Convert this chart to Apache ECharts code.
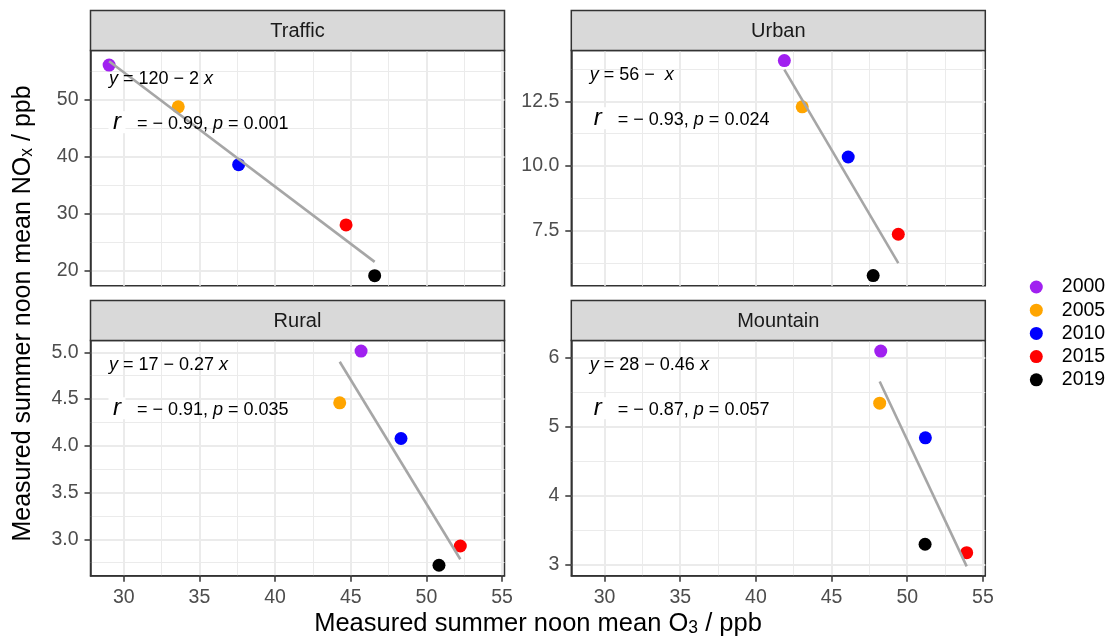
<!DOCTYPE html>
<html><head><meta charset="utf-8">
<script src="https://cdn.jsdelivr.net/npm/echarts@6/dist/echarts.min.js"></script>
<style>html,body{margin:0;padding:0;background:#fff}#chart{width:1110px;height:641px}</style>
</head><body><div id="chart"></div>
<script>
// ---------------- data ----------------
const years = ['2000', '2005', '2010', '2015', '2019'];
const panels = ['Traffic', 'Urban', 'Rural', 'Mountain'];

// measured summer noon mean O3 (x) and NOx (y), in year order
const trafficO3   = [29.03, 33.60, 37.59, 44.69, 46.58];
const trafficNOx  = [56.13, 48.80, 38.63, 28.05, 19.12];
const urbanO3     = [41.88, 43.06, 46.10, 49.41, 47.75];
const urbanNOx    = [14.08, 12.29, 10.35, 7.36, 5.76];
const ruralO3     = [45.68, 44.27, 48.32, 52.24, 50.83];
const ruralNOx    = [5.014, 4.46, 4.078, 2.928, 2.722];
const mountainO3  = [48.25, 48.18, 51.20, 53.93, 51.18];
const mountainNOx = [6.09, 5.338, 4.837, 3.178, 3.299];

// fitted regression line end points
const trafficFit  = [[29.03, 56.80], [46.58, 21.55]];
const urbanFit    = [[41.88, 13.73], [49.41, 6.24]];
const ruralFit    = [[44.27, 4.90], [52.24, 2.786]];
const mountainFit = [[48.18, 5.65], [53.93, 2.98]];

// annotation texts
const eqLabels  = ['{i|y} = 120 − 2 {i|x}', '{i|y} = 56 −  {i|x}', '{i|y} = 17 − 0.27 {i|x}', '{i|y} = 28 − 0.46 {i|x}'];
const corLabels = ['= − 0.99, {i|p} = 0.001', '= − 0.93, {i|p} = 0.024', '= − 0.91, {i|p} = 0.035', '= − 0.87, {i|p} = 0.057'];

// axis ranges and ticks
const xRange = [27.8, 55.16];
const xTicks = [30, 35, 40, 45, 50, 55];
const xMinorTicks = [32.5, 37.5, 42.5, 47.5, 52.5];
const trafficYRange  = [17.36, 58.70];
const urbanYRange    = [5.37, 14.47];
const ruralYRange    = [2.61, 5.127];
const mountainYRange = [2.845, 6.243];
const trafficYTicks  = [20, 30, 40, 50];
const urbanYTicks    = [7.5, 10, 12.5];
const ruralYTicks    = [3, 3.5, 4, 4.5, 5];
const mountainYTicks = [3, 4, 5, 6];
const trafficYMinor  = [25, 35, 45, 55];
const urbanYMinor    = [6.25, 8.75, 11.25, 13.75];
const ruralYMinor    = [2.75, 3.25, 3.75, 4.25, 4.75];
const mountainYMinor = [3.5, 4.5, 5.5];
const yDecimals = [0, 1, 1, 0];

// ---------------- build ----------------
const yearColors = ['#A020F0', '#FFA500', '#0000FF', '#FF0000', '#000000'];
const FONT = '"Liberation Sans", Arial, Helvetica, sans-serif';
const xs = [trafficO3, urbanO3, ruralO3, mountainO3];
const ys = [trafficNOx, urbanNOx, ruralNOx, mountainNOx];
const fits = [trafficFit, urbanFit, ruralFit, mountainFit];
const yRanges = [trafficYRange, urbanYRange, ruralYRange, mountainYRange];
const yTicks = [trafficYTicks, urbanYTicks, ruralYTicks, mountainYTicks];
const yMinor = [trafficYMinor, urbanYMinor, ruralYMinor, mountainYMinor];

const COLS = [90.5, 571.3], ROWS = [50.5, 340.5], PW = 414, PH = 235.2, SH = 40;
const eqDy = [28.3, 24.8, 24.8, 24.8];
const corDy = [73.2, 69.2, 69.2, 69.2];

const grids = [], xAxes = [], yAxes = [], series = [], graphics = [];
const minorX = [], minorY = [];

panels.forEach((name, p) => {
  const left = COLS[p % 2], top = ROWS[p >> 1];
  const bottomRow = p >= 2;
  grids.push({left: left, top: top, width: PW, height: PH, show: true,
    borderColor: '#333333', borderWidth: 1.5, backgroundColor: 'transparent'});
  xAxes.push({type: 'value', gridIndex: p, min: xRange[0], max: xRange[1],
    axisLine: {show: bottomRow, onZero: false, lineStyle: {color: '#333333', width: 1.5}},
    axisTick: {show: bottomRow, length: 6, customValues: xTicks, lineStyle: {color: '#333333', width: 1.5}},
    axisLabel: {show: bottomRow, customValues: xTicks, color: '#4D4D4D', fontSize: 19.5, fontFamily: FONT, margin: 12},
    splitLine: {show: true, lineStyle: {color: '#EBEBEB', width: 2}}
  });
  const dec = yDecimals[p];
  yAxes.push({type: 'value', gridIndex: p, min: yRanges[p][0], max: yRanges[p][1],
    axisLine: {show: true, onZero: false, lineStyle: {color: '#333333', width: 1.5}},
    axisTick: {show: true, length: 6, customValues: yTicks[p], lineStyle: {color: '#333333', width: 1.5}},
    axisLabel: {show: true, customValues: yTicks[p], color: '#4D4D4D', fontSize: 19.5, fontFamily: FONT, margin: 12,
      formatter: v => Number(v).toFixed(dec)},
    splitLine: {show: true, lineStyle: {color: '#EBEBEB', width: 2}}
  });
  minorX.push({type: 'value', gridIndex: p, min: xRange[0], max: xRange[1], position: 'top',
    axisLine: {show: false}, axisTick: {show: false, customValues: xMinorTicks},
    axisLabel: {show: false}, splitLine: {show: true, lineStyle: {color: '#EBEBEB', width: 1}}});
  minorY.push({type: 'value', gridIndex: p, min: yRanges[p][0], max: yRanges[p][1], position: 'right',
    axisLine: {show: false}, axisTick: {show: false, customValues: yMinor[p]},
    axisLabel: {show: false}, splitLine: {show: true, lineStyle: {color: '#EBEBEB', width: 1}}});

  years.forEach((yr, k) => {
    series.push({name: yr, type: 'scatter', xAxisIndex: p, yAxisIndex: p,
      data: [[xs[p][k], ys[p][k]]], symbol: 'circle', symbolSize: 13,
      itemStyle: {color: yearColors[k], opacity: 1}, z: 3, silent: true});
  });
  series.push({name: 'fit' + p, type: 'line', xAxisIndex: p, yAxisIndex: p, data: fits[p],
    showSymbol: false, symbol: 'none', lineStyle: {color: '#A6A6A6', width: 2.6}, z: 4, silent: true});

  // strip
  graphics.push({type: 'rect', shape: {x: left, y: top - SH, width: PW, height: SH},
    style: {fill: '#D9D9D9', stroke: '#333333', lineWidth: 1.5}, z: 10});
  graphics.push({type: 'text', x: left + PW / 2, y: top - SH / 2 + 0.5, z: 11,
    style: {text: name, fill: '#1A1A1A', fontSize: 20, fontFamily: FONT,
      align: 'center', verticalAlign: 'middle', textAlign: 'center', textVerticalAlign: 'middle'}});
  // equation
  graphics.push({type: 'text', x: left + 18.5, y: top + eqDy[p], z: 12,
    style: {text: eqLabels[p], fill: '#000', fontSize: 18, fontFamily: FONT,
      rich: {i: {fontStyle: 'italic', fontSize: 18, fontFamily: FONT, fill: '#000'}},
      align: 'left', verticalAlign: 'middle', textAlign: 'left', textVerticalAlign: 'middle'}});
  // r with white box
  graphics.push({type: 'text', x: left + 18, y: top + corDy[p] - 1.5, z: 12,
    style: {text: 'r', fill: '#000', fontSize: 24, fontStyle: 'italic', fontFamily: FONT,
      backgroundColor: '#FFFFFF', padding: [0, 4.5], lineHeight: 22,
      align: 'left', verticalAlign: 'middle', textAlign: 'left', textVerticalAlign: 'middle'}});
  graphics.push({type: 'text', x: left + 46.5, y: top + corDy[p], z: 12,
    style: {text: corLabels[p], fill: '#000', fontSize: 18, fontFamily: FONT,
      rich: {i: {fontStyle: 'italic', fontSize: 18, fontFamily: FONT, fill: '#000'}},
      align: 'left', verticalAlign: 'middle', textAlign: 'left', textVerticalAlign: 'middle'}});
});

// axis titles
graphics.push({type: 'text', x: 538, y: 624, z: 12,
  style: {text: 'Measured summer noon mean O{sub|3} / ppb', fill: '#000', fontSize: 25.5, fontFamily: FONT,
    rich: {sub: {fontSize: 17.5, fontFamily: FONT, fill: '#000', verticalAlign: 'bottom', lineHeight: 8}},
    align: 'center', verticalAlign: 'middle', textAlign: 'center', textVerticalAlign: 'middle'}});
graphics.push({type: 'text', x: 23.2, y: 313.5, rotation: Math.PI / 2, z: 12,
  style: {text: 'Measured summer noon mean NO{sub|x} / ppb', fill: '#000', fontSize: 25, fontFamily: FONT,
    rich: {sub: {fontSize: 17.5, fontFamily: FONT, fill: '#000', verticalAlign: 'bottom', lineHeight: 8}},
    align: 'center', verticalAlign: 'middle', textAlign: 'center', textVerticalAlign: 'middle'}});

const option = {
  animation: false,
  backgroundColor: '#FFFFFF',
  grid: grids,
  xAxis: xAxes.concat(minorX),
  yAxis: yAxes.concat(minorY),
  legend: {data: years, orient: 'vertical', left: 1029.8, top: 277, padding: 0,
    itemWidth: 41, itemHeight: 13, itemGap: 3.2, icon: 'circle', selectedMode: false,
    textStyle: {fontSize: 19.5, color: '#000', fontFamily: FONT}},
  series: series,
  graphic: graphics
};
const chart = echarts.init(document.getElementById('chart'), null, {renderer: 'canvas'});
chart.setOption(option);
</script></body></html>
